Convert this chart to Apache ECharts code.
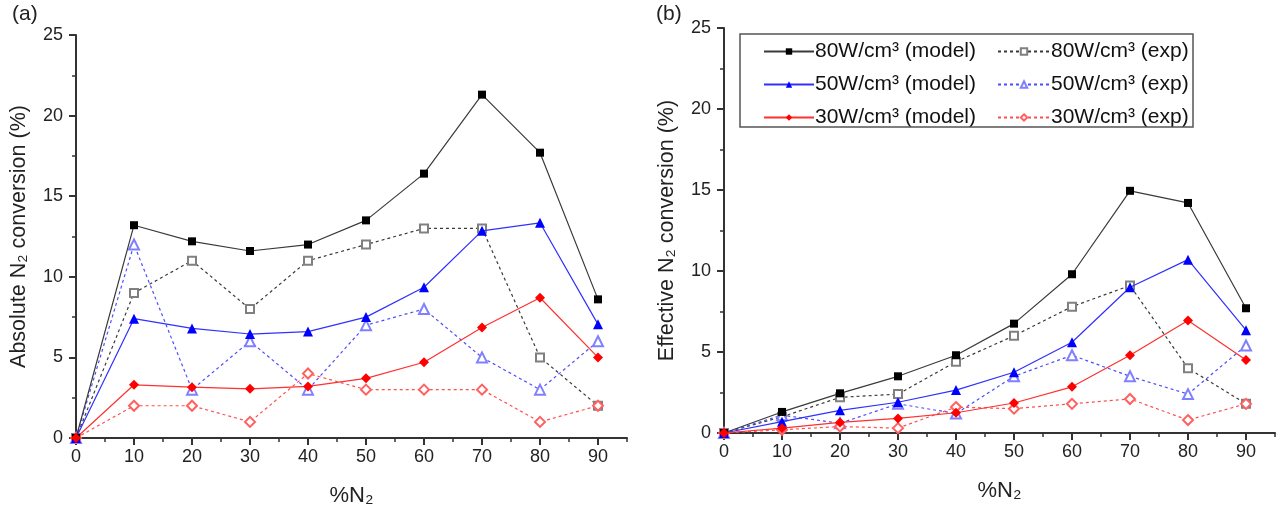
<!DOCTYPE html>
<html><head><meta charset="utf-8">
<script src="https://cdn.jsdelivr.net/npm/echarts@6/dist/echarts.min.js"></script>
<style>html,body{margin:0;padding:0;background:#fff}#c{width:1280px;height:513px}</style>
</head><body><div id="c"></div>
<script>
const xValues = [0, 10, 20, 30, 40, 50, 60, 70, 80, 90];
const xTicks = [0, 10, 20, 30, 40, 50, 60, 70, 80, 90];
const yTicks = [0, 5, 10, 15, 20, 25];

// Panel (a): Absolute N2 conversion (%)
const absModel80 = [0, 13.2, 12.2, 11.6, 12.0, 13.5, 16.4, 21.3, 17.7, 8.6];
const absExp80   = [0, 9, 11, 8, 11, 12, 13, 13, 5, 2];
const absModel50 = [0, 7.4, 6.8, 6.45, 6.6, 7.5, 9.35, 12.85, 13.35, 7.05];
const absExp50   = [0, 12, 3, 6, 3, 7, 8, 5, 3, 6];
const absModel30 = [0, 3.3, 3.15, 3.05, 3.2, 3.7, 4.7, 6.85, 8.7, 5.0];
const absExp30   = [0, 2, 2, 1, 4, 3, 3, 3, 1, 2];

// Panel (b): Effective N2 conversion (%)
const effModel80 = [0, 1.3, 2.45, 3.5, 4.8, 6.75, 9.8, 14.95, 14.2, 7.7];
const effExp80   = [0, 1.0, 2.2, 2.4, 4.4, 6.0, 7.8, 9.1, 4.0, 1.8];
const effModel50 = [0, 0.7, 1.4, 1.9, 2.65, 3.75, 5.6, 9.0, 10.7, 6.35];
const effExp50   = [0, 1.1, 0.6, 1.8, 1.2, 3.5, 4.8, 3.5, 2.4, 5.4];
const effModel30 = [0, 0.3, 0.65, 0.9, 1.25, 1.85, 2.85, 4.8, 6.95, 4.5];
const effExp30   = [0, 0.2, 0.4, 0.3, 1.6, 1.5, 1.8, 2.1, 0.8, 1.8];

const names = ['80W/cm³ (model)', '80W/cm³ (exp)', '50W/cm³ (model)', '50W/cm³ (exp)', '30W/cm³ (model)', '30W/cm³ (exp)'];

const styles = [
  {line: '#3a3a3a', sym: 'rect', color: '#000000', dash: 'solid', size: 8},
  {line: '#3a3a3a', sym: 'emptyRect', color: '#808080', dash: [3, 3], size: 8},
  {line: '#3030ff', sym: 'triangle', color: '#0000ff', dash: 'solid', size: 10},
  {line: '#4d4dff', sym: 'emptyTriangle', color: '#8080ff', dash: [3, 3], size: 10},
  {line: '#ff3030', sym: 'diamond', color: '#ff0000', dash: 'solid', size: 10},
  {line: '#ff5050', sym: 'emptyDiamond', color: '#ff6060', dash: [3, 3], size: 10}
];

const panelA = [absModel80, absExp80, absModel50, absExp50, absModel30, absExp30];
const panelB = [effModel80, effExp80, effModel50, effExp50, effModel30, effExp30];

const FONT = 'Liberation Sans, Arial, sans-serif';

function mkSeries(arrs, axisIdx) {
  return arrs.map((arr, i) => ({
    name: names[i],
    type: 'line',
    xAxisIndex: axisIdx, yAxisIndex: axisIdx,
    data: arr.map((v, k) => [xValues[k], v]),
    symbol: styles[i].sym,
    symbolSize: styles[i].size,
    showAllSymbol: true,
    lineStyle: {color: styles[i].line, width: 1.2, type: styles[i].dash},
    itemStyle: {color: styles[i].color, borderWidth: 1.2},
    z: i % 2 === 0 ? 3 : 2,
    animation: false
  }));
}

function mainX(gridIndex) {
  return {
    type: 'value', gridIndex, min: 0, max: 95, interval: 5,
    name: '%N₂', nameLocation: 'middle', nameGap: 47,
    nameTextStyle: {fontSize: 22, color: '#222', fontFamily: FONT},
    axisLine: {show: true, lineStyle: {color: '#333', width: 2}},
    axisTick: {show: true, length: 7, inside: false, customValues: xTicks, lineStyle: {color: '#333', width: 2}},
    axisLabel: {show: true, customValues: xTicks, fontSize: 18, color: '#222', fontFamily: FONT, margin: 10},
    splitLine: {show: false}
  };
}
function minorX(gridIndex) {
  return {
    type: 'value', gridIndex, min: 0, max: 95, interval: 5, position: 'bottom',
    axisLine: {show: false},
    axisTick: {show: true, length: 4, lineStyle: {color: '#333', width: 1.5}},
    axisLabel: {show: false}, splitLine: {show: false}
  };
}
function mainY(gridIndex, title) {
  return {
    type: 'value', gridIndex, min: 0, max: 25, interval: 5,
    name: title, nameLocation: 'middle', nameGap: 46,
    nameTextStyle: {fontSize: 21.5, color: '#222', fontFamily: FONT},
    axisLine: {show: true, lineStyle: {color: '#333', width: 2}},
    axisTick: {show: true, length: 7, customValues: yTicks, lineStyle: {color: '#333', width: 2}},
    minorTick: {show: true, splitNumber: 2, length: 4, lineStyle: {color: '#333', width: 1.5}},
    axisLabel: {show: true, customValues: yTicks, fontSize: 18, color: '#222', fontFamily: FONT, margin: 13},
    splitLine: {show: false}, minorSplitLine: {show: false}
  };
}

const chart = echarts.init(document.getElementById('c'), null, {renderer: 'canvas'});
chart.setOption({
  backgroundColor: '#ffffff',
  animation: false,
  grid: [
    {left: 76, right: 653, top: 35, bottom: 75},
    {left: 724, right: 5, top: 28, bottom: 80}
  ],
  xAxis: [mainX(0), mainX(1), minorX(0), minorX(1)],
  yAxis: [mainY(0, 'Absolute N₂ conversion (%)'), mainY(1, 'Effective N₂ conversion (%)')],
  legend: [
    {
      data: [names[0], names[2], names[4]], orient: 'vertical', left: 758, top: 36,
      itemWidth: 50, itemHeight: 8, itemGap: 12,
      textStyle: {fontSize: 21, color: '#111', fontFamily: FONT, padding: [0, 0, 0, -4]}
    },
    {
      data: [names[1], names[3], names[5]], orient: 'vertical', left: 992, top: 36,
      itemWidth: 52, itemHeight: 8, itemGap: 12,
      textStyle: {fontSize: 21, color: '#111', fontFamily: FONT, padding: [0, 0, 0, -4]}
    }
  ],
  graphic: [
    {type: 'rect', shape: {x: 740, y: 34, width: 453, height: 93}, style: {fill: 'none', stroke: '#555', lineWidth: 1.5}, z: 10},
    {type: 'text', left: 12, top: 4, style: {text: '(a)', fontSize: 21, fill: '#222', fontFamily: FONT}},
    {type: 'text', left: 656, top: 4, style: {text: '(b)', fontSize: 21, fill: '#222', fontFamily: FONT}}
  ],
  series: [...mkSeries(panelA, 0), ...mkSeries(panelB, 1)]
});
</script></body></html>
